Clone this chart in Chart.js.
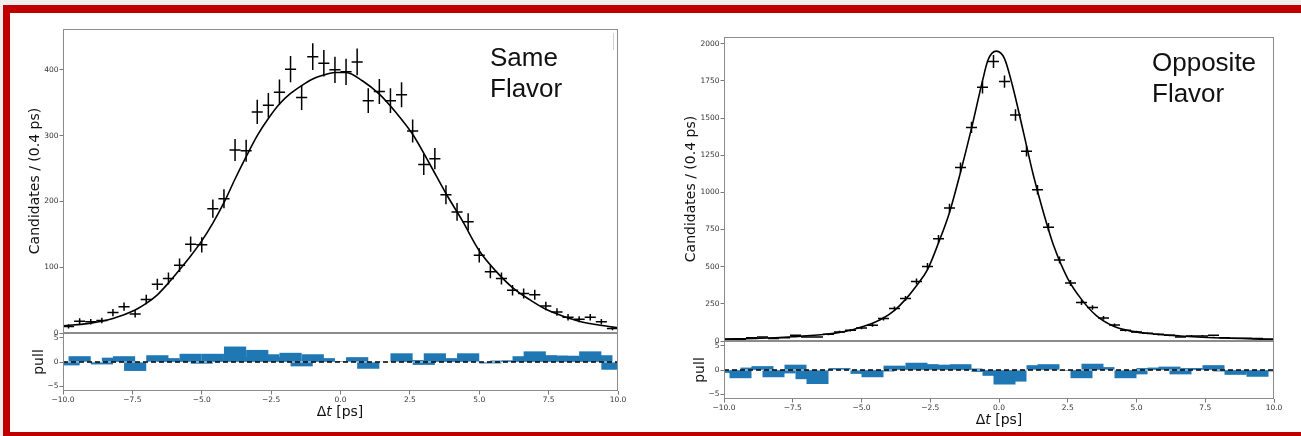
<!DOCTYPE html>
<html><head><meta charset="utf-8">
<script src="https://cdn.jsdelivr.net/npm/chart.js@4"></script>
<style>
body{margin:0;width:1301px;height:436px;background:#fff;position:relative;overflow:hidden;font-family:'DejaVu Sans',sans-serif;}
.blk{position:absolute;}
canvas{position:absolute;}
.ann{position:absolute;font-family:'Liberation Sans',Arial,sans-serif;font-size:26px;line-height:31px;color:#111;white-space:nowrap;}
.ylab{position:absolute;font-size:14px;white-space:nowrap;transform:translate(-50%,-50%) rotate(-90deg);color:#111;}
.xlab{position:absolute;font-size:14px;white-space:nowrap;transform:translate(-50%,-50%);color:#111;}
</style></head><body>
<div class="blk" style="left:0;top:0;width:1301px;height:5px;background:#eeeeee"></div>
<div class="blk" style="left:0;top:0;width:3px;height:436px;background:#eeeeee"></div>
<div class="blk" style="left:3px;top:5px;width:1298px;height:8px;background:#c00000"></div>
<div class="blk" style="left:3px;top:5px;width:7px;height:431px;background:#c00000"></div>
<div class="blk" style="left:3px;top:432px;width:1298px;height:4px;background:#c00000"></div>
<div class="blk" style="left:613px;top:33px;width:1px;height:17px;background:#d0d0d0"></div>

<canvas id="c1" width="640" height="330" style="left:0px;top:20px"></canvas>
<canvas id="c2" width="640" height="95" style="left:0px;top:325px"></canvas>
<canvas id="c3" width="640" height="330" style="left:650px;top:28px"></canvas>
<canvas id="c4" width="640" height="95" style="left:650px;top:333px"></canvas>

<div class="ann" style="left:490px;top:42px">Same<br>Flavor</div>
<div class="ann" style="left:1152px;top:47px">Opposite<br>Flavor</div>

<div class="ylab" style="left:34px;top:181px">Candidates / (0.4 ps)</div>
<div class="ylab" style="left:38px;top:362px">pull</div>
<div class="ylab" style="left:690px;top:189px">Candidates / (0.4 ps)</div>
<div class="ylab" style="left:699px;top:370px">pull</div>
<div class="xlab" style="left:340px;top:411px">Δ<i>t</i> [ps]</div>
<div class="xlab" style="left:999px;top:419px">Δ<i>t</i> [ps]</div>

<script>
// ---- data ----
const binCenters = [-9.8,-9.4,-9.0,-8.6,-8.2,-7.8,-7.4,-7.0,-6.6,-6.2,-5.8,-5.4,-5.0,-4.6,-4.2,-3.8,-3.4,-3.0,-2.6,-2.2,
  -1.8,-1.4,-1.0,-0.6,-0.2,0.2,0.6,1.0,1.4,1.8,2.2,2.6,3.0,3.4,3.8,4.2,4.6,5.0,5.4,5.8,
  6.2,6.6,7.0,7.4,7.8,8.2,8.6,9.0,9.4,9.8];

const sameCounts = [10,18,17,19,31,40,29,51,74,83,103,135,134,189,204,278,277,336,346,366,
  401,358,420,410,400,397,412,353,367,353,362,307,256,265,210,184,169,118,93,83,
  65,60,58,41,32,24,21,24,17,7];
const samePulls = [-0.7,1.2,0.1,-0.5,0.9,1.2,-1.85,0.0,1.4,0.8,0.5,1.7,-0.35,1.7,0.3,3.2,1.0,2.5,1.6,1.0,
  1.9,-0.9,1.6,0.8,0.2,0.1,1.0,-1.4,0.0,0.1,1.8,0.4,-0.6,1.8,0.8,0.5,1.8,0.0,-0.3,0.3,
  0.3,1.2,2.2,1.4,1.3,1.3,1.0,2.2,1.4,-1.6];
const sameCurveX = [-10,-9,-8.2,-7.4,-7.0,-6.6,-6.2,-5.8,-5.4,-5.0,-4.6,-4.2,-3.8,-3.4,-3.0,-2.6,-2.2,-1.8,-1.4,-1.0,
  -0.6,-0.2,0.2,0.8,1.4,2.0,2.6,3.2,3.8,4.4,5.0,5.6,6.2,6.8,7.4,8.0,8.6,9.2,10];
const sameCurveY = [11,15,22,35,45,58,76,96,117,140,167,198,234,268,300,326,348,364,376,386,
  392,396,396,383,363,335,302,258,212,170,125,94,69,51,36,26,18,13,8];

const oppCounts = [11,11,22,27,16,22,38,27,27,45,61,72,88,106,151,218,286,401,502,687,
  894,1167,1437,1707,1880,1745,1520,1277,1018,766,545,390,259,225,155,108,72,61,52,45,
  38,27,34,34,38,22,18,18,16,11];
const oppPulls = [-0.6,-1.7,0.5,0.8,-1.5,-0.7,1.1,-1.9,-2.9,0.0,0.4,0.0,-0.8,-1.5,-0.3,0.9,0.5,1.5,1.2,1.1,
  1.0,1.2,0.3,-0.4,-1.2,-3.0,-2.4,0.1,1.0,1.2,0.0,-0.2,-1.7,1.3,0.6,0.0,-1.7,-0.9,0.4,0.5,
  0.7,-0.9,0.4,0.3,1.0,-0.3,-1.0,-0.5,-1.4,-0.3];
const oppCurveX = [-10,-8.7,-7.5,-6.3,-5.8,-5.4,-5.0,-4.6,-4.2,-3.8,-3.4,-3.0,-2.6,-2.2,-1.8,-1.4,-1.0,-0.6,-0.4,-0.1,
  0.2,0.5,0.9,1.25,1.6,2.0,2.5,3.0,3.55,4.15,4.75,5.35,6.6,7.8,10];
const oppCurveY = [13,18,29,45,58,72,94,120,155,206,280,372,480,660,865,1135,1430,1750,1890,1950,
  1900,1710,1395,1115,875,635,420,280,169,101,68,52,34,22,11];

const xTickValues = [-10,-7.5,-5,-2.5,0,2.5,5,7.5,10];
const sameYTicks = [0,100,200,300,400];
const oppYTicks = [0,250,500,750,1000,1250,1500,1750,2000];
const pullTicks = [-5,0,5];
const binHalfWidth = 0.2;

// ---- helpers ----
Chart.defaults.font.family = "'DejaVu Sans', sans-serif";
const tickFont = {size: 7.5, family: "'DejaVu Sans', sans-serif"};
const tickColor = '#333';
const fmtMinus = v => (Number(v) < 0 ? '\u2212' + String(v).replace('-', '') : String(v));

const errorBars = {
  id: 'errorBars',
  afterDatasetsDraw(chart) {
    const idx = chart.data.datasets.findIndex(d => d.errorBars);
    if (idx < 0) return;
    const xs = chart.scales.x, ys = chart.scales.y, ctx = chart.ctx;
    ctx.save();
    ctx.strokeStyle = '#000';
    ctx.lineWidth = 1.5;
    chart.data.datasets[idx].data.forEach(p => {
      const e = Math.sqrt(p.y);
      const px = xs.getPixelForValue(p.x), py = ys.getPixelForValue(p.y);
      ctx.beginPath();
      ctx.moveTo(px, ys.getPixelForValue(p.y - e));
      ctx.lineTo(px, ys.getPixelForValue(p.y + e));
      ctx.moveTo(xs.getPixelForValue(p.x - binHalfWidth), py);
      ctx.lineTo(xs.getPixelForValue(p.x + binHalfWidth), py);
      ctx.stroke();
    });
    ctx.restore();
  }
};
const frame = {
  id: 'frame',
  afterDraw(chart) {
    const {left, top, right, bottom} = chart.chartArea;
    const ctx = chart.ctx;
    ctx.save();
    ctx.strokeStyle = '#8c8c8c';
    ctx.lineWidth = 1;
    ctx.strokeRect(Math.round(left) + 0.5, Math.round(top) + 0.5, Math.round(right - left) - 1, Math.round(bottom - top) - 1);
    ctx.restore();
  }
};
const gridOpts = {display: true, drawOnChartArea: false, drawTicks: true, tickLength: 3.5, color: '#555', lineWidth: 0.8};

function mainChart(id, counts, curveX, curveY, yMax, yTicks, yWidth, pad) {
  return new Chart(document.getElementById(id), {
    type: 'scatter',
    data: {datasets: [
      {type: 'line', data: curveX.map((x, i) => ({x, y: curveY[i]})), borderColor: '#000', borderWidth: 1.6,
       pointRadius: 0, fill: false, cubicInterpolationMode: 'monotone', order: 1},
      {type: 'scatter', data: binCenters.map((x, i) => ({x, y: counts[i]})), pointRadius: 0, errorBars: true, order: 0}
    ]},
    options: {
      animation: false, responsive: false, devicePixelRatio: 1,
      layout: {padding: pad},
      plugins: {legend: {display: false}, tooltip: {enabled: false}},
      scales: {
        x: {type: 'linear', min: -10, max: 10, display: false},
        y: {type: 'linear', min: 0, max: yMax,
            afterFit(s) { s.width = yWidth; },
            afterBuildTicks(s) { s.ticks = yTicks.map(v => ({value: v})); },
            ticks: {font: tickFont, color: tickColor, padding: 1, includeBounds: false, callback: v => String(v)},
            grid: gridOpts, border: {display: false}}
      }
    },
    plugins: [errorBars, frame]
  });
}

function pullChart(id, pulls, yWidth, pad) {
  return new Chart(document.getElementById(id), {
    type: 'bar',
    data: {datasets: [
      {type: 'line', data: [{x: -10, y: 0}, {x: 10, y: 0}], borderColor: '#000', borderWidth: 1.5,
       borderDash: [5, 3], pointRadius: 0, fill: false, order: 0},
      {type: 'bar', data: binCenters.map((x, i) => ({x, y: pulls[i]})), backgroundColor: '#1f77b4',
       borderWidth: 0, barPercentage: 2.0, categoryPercentage: 1.0, order: 1}
    ]},
    options: {
      animation: false, responsive: false, devicePixelRatio: 1,
      layout: {padding: pad},
      plugins: {legend: {display: false}, tooltip: {enabled: false}},
      scales: {
        x: {type: 'linear', min: -10, max: 10, offset: false,
            afterFit(s) { s.height = 29; },
            afterBuildTicks(s) { s.ticks = xTickValues.map(v => ({value: v})); },
            ticks: {font: tickFont, color: tickColor, padding: 1, autoSkip: false, maxRotation: 0,
                    callback: v => fmtMinus(Number(v).toFixed(1))},
            grid: Object.assign({offset: false}, gridOpts), border: {display: false}},
        y: {type: 'linear', min: -6, max: 6,
            afterFit(s) { s.width = yWidth; },
            afterBuildTicks(s) { s.ticks = pullTicks.map(v => ({value: v})); },
            ticks: {font: tickFont, color: tickColor, padding: 1, callback: v => fmtMinus(v)},
            grid: gridOpts, border: {display: false}}
      }
    },
    plugins: [frame]
  });
}

mainChart('c1', sameCounts, sameCurveX, sameCurveY, 462, sameYTicks, 63, {top: 9, right: 22, bottom: 17, left: 0});
pullChart('c2', samePulls, 63, {top: 8, right: 22, bottom: 0, left: 0});
mainChart('c3', oppCounts, oppCurveX, oppCurveY, 2045, oppYTicks, 74, {top: 9, right: 16, bottom: 17, left: 0});
pullChart('c4', oppPulls, 74, {top: 8, right: 16, bottom: 0, left: 0});
</script>
</body></html>
